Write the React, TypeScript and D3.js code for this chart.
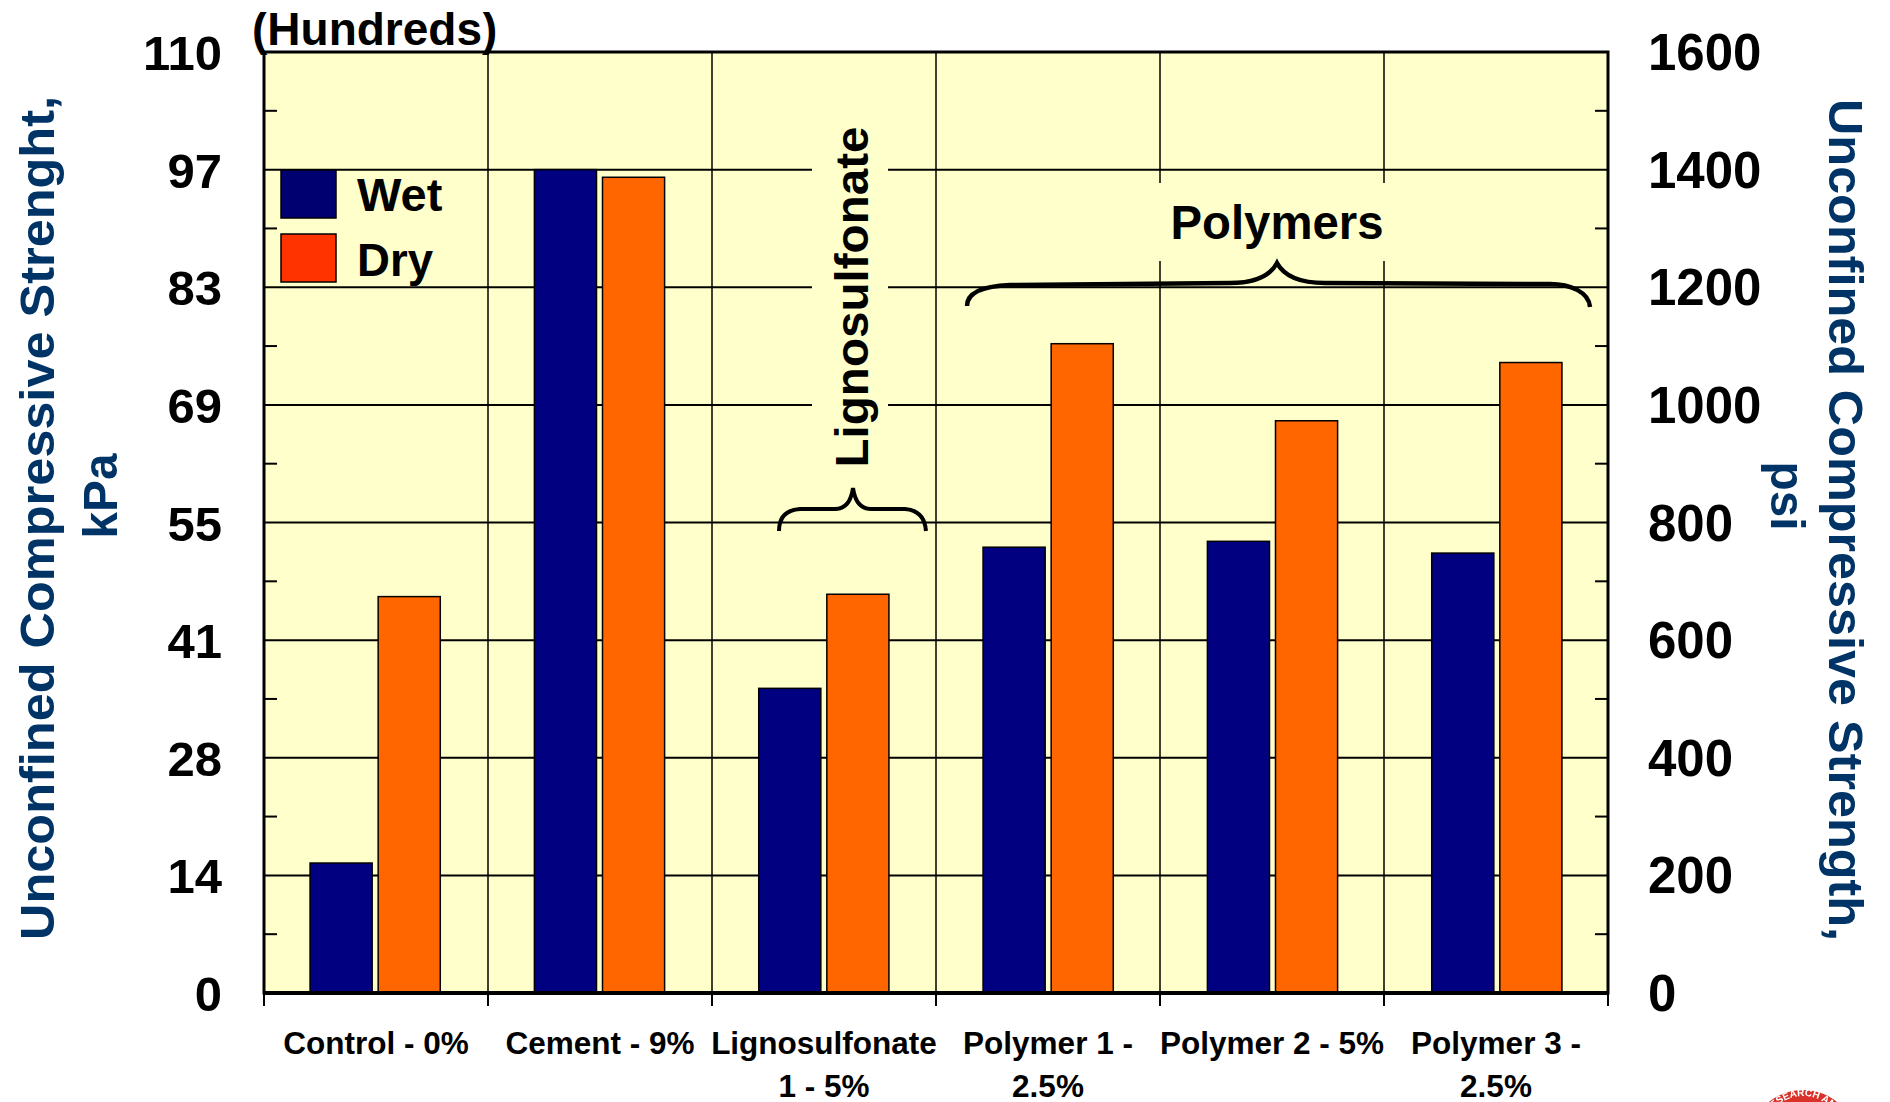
import React, { useRef, useEffect } from 'react';
import * as d3 from 'd3';

const categories = ['Control - 0%', 'Cement - 9%', 'Lignosulfonate 1 - 5%', 'Polymer 1 - 2.5%', 'Polymer 2 - 5%', 'Polymer 3 - 2.5%'];
const categoryLines = [['Control - 0%'], ['Cement - 9%'], ['Lignosulfonate', '1 - 5%'], ['Polymer 1 -', '2.5%'], ['Polymer 2 - 5%'], ['Polymer 3 -', '2.5%']];
const wetPsi = [221, 1400, 518, 758, 768, 748];
const dryPsi = [674, 1387, 678, 1104, 973, 1072];
const psiTicks = [0, 200, 400, 600, 800, 1000, 1200, 1400, 1600];
const minorTicks = [100, 300, 500, 700, 900, 1100, 1300, 1500];
const kpaLabels = ['0', '14', '28', '41', '55', '69', '83', '97', '110'];

const FONT = '"Liberation Sans", Arial, sans-serif';

function App() {
  const svgRef = useRef<SVGSVGElement>(null);

  useEffect(() => {
    const svg = d3.select(svgRef.current);
    svg.selectAll('*').remove();

    const left = 264, right = 1608, top = 52, bottom = 993;

    const x = d3.scaleBand().domain(categories).range([left, right]);
    // bars sit on a very slightly wider step than the gridlines
    const xBars = d3.scaleBand().domain(categories).range([left - 1, right + 1]);
    const x1 = d3.scaleBand().domain(['wet', 'dry']).range([0, xBars.bandwidth()]).paddingInner(0.088).paddingOuter(0.691);
    const y = d3.scaleLinear().domain([0, 1600]).range([bottom, top]);

    svg.append('clipPath').attr('id', 'topclip').append('rect')
      .attr('x', 0).attr('y', 12).attr('width', 1890).attr('height', 1090);

    svg.append('rect').attr('x', left).attr('y', top).attr('width', right - left).attr('height', bottom - top).attr('fill', '#ffffcc');

    // gridlines
    const grid = svg.append('g').attr('stroke', '#000');
    grid.selectAll('line.h').data(psiTicks.slice(1, -1)).enter().append('line')
      .attr('x1', left).attr('x2', right).attr('y1', d => y(d)).attr('y2', d => y(d)).attr('stroke-width', 2);
    grid.selectAll('line.v').data(categories.slice(1)).enter().append('line')
      .attr('x1', d => x(d)!).attr('x2', d => x(d)!).attr('y1', top).attr('y2', bottom).attr('stroke-width', 1.5);

    // boxes behind the group labels hide the gridlines
    svg.append('rect').attr('x', 812).attr('y', 110).attr('width', 76).attr('height', 368).attr('fill', '#ffffcc');
    svg.append('rect').attr('x', 1150).attr('y', 183).attr('width', 260).attr('height', 78).attr('fill', '#ffffcc');

    // minor ticks, both sides
    const ticks = svg.append('g').attr('stroke', '#000').attr('stroke-width', 2);
    ticks.selectAll('line.l').data(minorTicks).enter().append('line')
      .attr('x1', left).attr('x2', left + 13).attr('y1', d => y(d)).attr('y2', d => y(d));
    ticks.selectAll('line.r').data(minorTicks).enter().append('line')
      .attr('x1', right).attr('x2', right - 13).attr('y1', d => y(d)).attr('y2', d => y(d));

    // bars
    const groups = svg.append('g').selectAll('g').data(categories).enter().append('g')
      .attr('transform', d => `translate(${xBars(d)},0)`);
    groups.append('rect').attr('x', x1('wet')!).attr('width', x1.bandwidth())
      .attr('y', (d, i) => y(wetPsi[i])).attr('height', (d, i) => bottom - y(wetPsi[i]))
      .attr('fill', '#000080').attr('stroke', '#000').attr('stroke-width', 1.5);
    groups.append('rect').attr('x', x1('dry')!).attr('width', x1.bandwidth())
      .attr('y', (d, i) => y(dryPsi[i])).attr('height', (d, i) => bottom - y(dryPsi[i]))
      .attr('fill', '#ff6600').attr('stroke', '#000').attr('stroke-width', 1.5);

    // frame
    svg.append('rect').attr('x', left).attr('y', top).attr('width', right - left).attr('height', bottom - top)
      .attr('fill', 'none').attr('stroke', '#000').attr('stroke-width', 3);
    svg.append('line').attr('x1', left).attr('x2', right).attr('y1', bottom).attr('y2', bottom).attr('stroke', '#000').attr('stroke-width', 4);

    // category ticks below the axis
    svg.append('g').selectAll('line').data([...categories.map(d => x(d)!), right]).enter().append('line')
      .attr('x1', d => d).attr('x2', d => d).attr('y1', bottom).attr('y2', 1006).attr('stroke', '#000').attr('stroke-width', 2);

    const text = (tx: number, ty: number, s: string, size: number, anchor = 'start', fill = '#000') =>
      svg.append('text').attr('x', tx).attr('y', ty).text(s)
        .attr('font-family', FONT).attr('font-weight', 700).attr('font-size', size)
        .attr('text-anchor', anchor).attr('fill', fill);

    psiTicks.forEach((t, i) => {
      text(222, y(t) + 18, kpaLabels[i], 49, 'end');
      text(1648, y(t) + 18, String(t), 51);
    });

    text(252, 45, '(Hundreds)', 46).attr('clip-path', 'url(#topclip)');

    categoryLines.forEach((lines, i) => {
      const cx = x(categories[i])! + x.bandwidth() / 2;
      lines.forEach((s, j) => text(cx, 1054 + j * 43, s, 31.5, 'middle'));
    });

    // legend
    svg.append('rect').attr('x', 281).attr('y', 170).attr('width', 55).attr('height', 48).attr('fill', '#000070').attr('stroke', '#000').attr('stroke-width', 1.5);
    svg.append('rect').attr('x', 281).attr('y', 234).attr('width', 55).attr('height', 48).attr('fill', '#ff3300').attr('stroke', '#000').attr('stroke-width', 1.5);
    text(357, 211, 'Wet', 47);
    text(357, 276, 'Dry', 47).attr('textLength', 76).attr('lengthAdjust', 'spacingAndGlyphs');

    // group labels
    text(1277, 239, 'Polymers', 48, 'middle').attr('textLength', 213).attr('lengthAdjust', 'spacingAndGlyphs');
    text(0, 0, 'Lignosulfonate', 47, 'middle')
      .attr('transform', 'translate(868,297) rotate(-90)')
      .attr('textLength', 341).attr('lengthAdjust', 'spacingAndGlyphs');

    // curly braces
    const brace = (path: string, w: number) => svg.append('path').attr('d', path).attr('fill', 'none').attr('stroke', '#000').attr('stroke-width', w);
    brace('M967,306 C967,292 985,286 1010,285 L1230,283 C1255,283 1270,276 1277,263 C1284,276 1300,283 1325,283 L1550,284 C1570,284 1589,292 1590,307', 4.5);
    brace('M779,531 C779,518 785,510 800,509 L835,509 C845,509 851,502 853,488 C855,502 861,509 871,509 L905,509 C918,510 925,518 926,531', 4);

    // axis titles
    const title = (tx: number, ty: number, rot: number, s: string, size: number, len: number) =>
      text(0, 0, s, size, 'middle', '#003366').attr('transform', `translate(${tx},${ty}) rotate(${rot})`)
        .attr('textLength', len).attr('lengthAdjust', 'spacingAndGlyphs');
    title(54, 518, -90, 'Unconfined Compressive Strenght,', 49, 844);
    title(117, 496, -90, 'kPa', 49, 85);
    title(1829, 520, 90, 'Unconfined Compressive Strength,', 49, 842);
    title(1771, 496, 90, 'psi', 49, 69);

    // corner of the logo, cut by the page edge
    const logo = svg.append('g').attr('clip-path', 'url(#topclip)');
    svg.append('filter').attr('id', 'soft').append('feGaussianBlur').attr('stdDeviation', 0.7);
    logo.append('circle').attr('cx', 1803).attr('cy', 1144).attr('r', 54).attr('fill', '#d9302a').attr('filter', 'url(#soft)');
    svg.append('path').attr('id', 'ring').attr('d', 'M1760,1144 A43,48 0 0 1 1846,1144').attr('fill', 'none');
    svg.append('text').attr('font-family', FONT).attr('font-weight', 700).attr('font-size', 10).attr('fill', '#fff')
      .attr('filter', 'url(#soft)')
      .append('textPath').attr('href', '#ring').attr('startOffset', '50%').attr('text-anchor', 'middle').text('RESEARCH AND');
  }, []);

  return (
    <svg ref={svgRef} width={1890} height={1102} style={{ position: 'absolute', left: 0, top: 0 }}></svg>
  );
}

export default App;
